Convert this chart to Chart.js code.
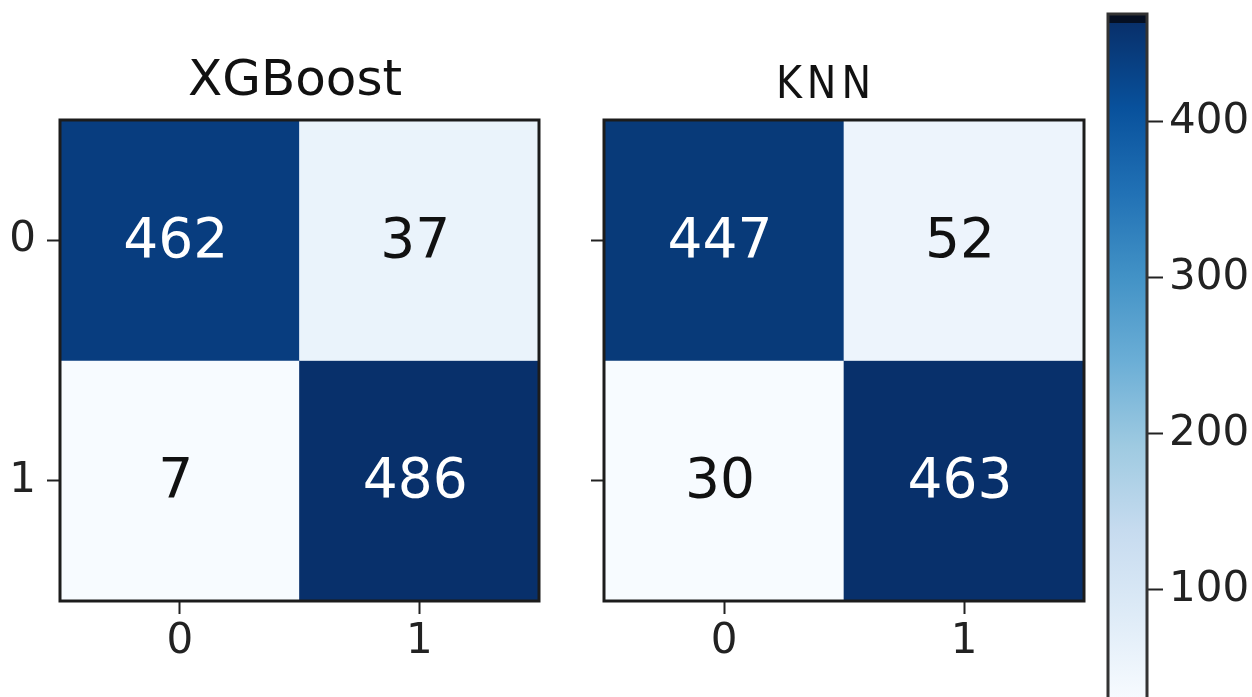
<!DOCTYPE html>
<html>
<head>
<meta charset="utf-8">
<script src="https://cdn.jsdelivr.net/npm/chart.js@4.4.1/dist/chart.umd.min.js"></script>
<style>
  html, body { margin: 0; padding: 0; background: #ffffff; overflow: hidden; }
  body { width: 1252px; height: 697px; position: relative; }
  canvas { position: absolute; left: 0; top: 0; }
</style>
</head>
<body>
<canvas id="cmXgb" width="1252" height="697"></canvas>
<canvas id="cmKnn" width="1252" height="697"></canvas>
<canvas id="cbar" width="1252" height="720"></canvas>
<script>
// ---------------- data ----------------
const classLabels = ['0', '1'];
const xgbRow0 = [462, 37];
const xgbRow1 = [7, 486];
const knnRow0 = [447, 52];
const knnRow1 = [30, 463];
const modelTitles = ['XGBoost', 'KNN'];
const colorbarTicks = [100, 200, 300, 400];

// matplotlib "Blues" colormap
const bluesStops = [
  [0.000, '#f7fbff'], [0.125, '#deebf7'], [0.250, '#c6dbef'],
  [0.375, '#9ecae1'], [0.500, '#6baed6'], [0.625, '#4292c6'],
  [0.750, '#2171b5'], [0.875, '#08519c'], [1.000, '#08306b']
];
function hex2rgb(h) { return [parseInt(h.slice(1,3),16), parseInt(h.slice(3,5),16), parseInt(h.slice(5,7),16)]; }
function blues(t) {
  t = Math.max(0, Math.min(1, t));
  for (let i = 1; i < bluesStops.length; i++) {
    if (t <= bluesStops[i][0]) {
      const [t0, c0] = bluesStops[i-1], [t1, c1] = bluesStops[i];
      const f = (t - t0) / (t1 - t0);
      const a = hex2rgb(c0), b = hex2rgb(c1);
      return 'rgb(' + a.map((v, k) => Math.round(v + (b[k]-v)*f)).join(',') + ')';
    }
  }
  return bluesStops[bluesStops.length-1][1];
}

Chart.defaults.font.family = "'DejaVu Sans', sans-serif";
Chart.defaults.color = '#222222';

const FONT = "'DejaVu Sans', sans-serif";

function zeroPad(s) { s.paddingTop = 0; s.paddingBottom = 0; s.paddingLeft = 0; s.paddingRight = 0; }

function makeMatrix(canvasId, rows, title, opts) {
  const all = rows.flat();
  const vmin = Math.min(...all), vmax = Math.max(...all);
  const norm = v => (v - vmin) / (vmax - vmin);
  const datasets = rows.map((row, r) => ({
    label: 'row ' + classLabels[r],
    data: row.map(() => [r - 0.5, r + 0.5]),
    values: row,
    backgroundColor: row.map(v => blues(norm(v))),
    textColors: row.map(v => (v > (vmin + vmax) / 2 ? '#ffffff' : '#111111')),
    borderWidth: 0,
    grouped: false,
    barPercentage: 1.0,
    categoryPercentage: 1.0
  }));

  const cellText = {
    id: 'cellText',
    afterDatasetsDraw(chart) {
      const ctx = chart.ctx;
      ctx.save();
      ctx.font = '55px ' + FONT;
      ctx.textAlign = 'center';
      ctx.textBaseline = 'middle';
      chart.data.datasets.forEach((ds, di) => {
        const meta = chart.getDatasetMeta(di);
        meta.data.forEach((el, i) => {
          ctx.fillStyle = ds.textColors[i];
          ctx.fillText(String(ds.values[i]), el.x - 4, (el.y + el.base) / 2 + 2);
        });
      });
      ctx.restore();
    }
  };
  const frame = {
    id: 'frame',
    afterDraw(chart) {
      const a = chart.chartArea, ctx = chart.ctx;
      ctx.save();
      ctx.strokeStyle = '#1c1c1c';
      ctx.lineWidth = 3;
      ctx.strokeRect(a.left, a.top, a.right - a.left, a.bottom - a.top);
      ctx.font = opts.titleFont;
      ctx.letterSpacing = opts.titleSpacing;
      ctx.fillStyle = '#111111';
      ctx.textAlign = 'center';
      ctx.textBaseline = 'alphabetic';
      ctx.fillText(title, opts.titleX, opts.titleY);
      ctx.restore();
    }
  };

  return new Chart(document.getElementById(canvasId), {
    type: 'bar',
    data: { labels: classLabels, datasets },
    options: {
      responsive: false,
      animation: false,
      devicePixelRatio: 1,
      layout: { padding: { left: 0, top: 120, right: opts.padRight, bottom: 0 } },
      plugins: { legend: { display: false }, tooltip: { enabled: false }, title: { display: false } },
      scales: {
        x: {
          type: 'category',
          offset: true,
          grid: { display: true, offset: false, drawOnChartArea: false, drawTicks: true, tickLength: 13, tickColor: '#222', tickWidth: 2 },
          border: { display: false },
          ticks: { font: { size: 42 }, color: '#222', padding: 3, maxRotation: 0 },
          afterFit(s) { s.height = 96; zeroPad(s); }
        },
        y: {
          type: 'linear',
          reverse: true,
          min: -0.5,
          max: 1.5,
          grid: { display: true, drawOnChartArea: false, drawTicks: true, tickLength: 13, tickColor: '#222', tickWidth: 2 },
          border: { display: false },
          afterBuildTicks(s) { s.ticks = classLabels.map((_, i) => ({ value: i })); },
          ticks: {
            font: { size: 42 }, color: '#222', padding: 11,
            callback: (v) => opts.showYLabels ? classLabels[Math.round(v)] : ''
          },
          afterFit(s) { s.width = opts.areaLeft; zeroPad(s); }
        }
      }
    },
    plugins: [cellText, frame]
  });
}

makeMatrix('cmXgb', [xgbRow0, xgbRow1], modelTitles[0], {
  areaLeft: 60, padRight: 1252 - 539, showYLabels: true,
  titleX: 295, titleY: 95, titleFont: '50px ' + FONT, titleSpacing: '0px'
});
makeMatrix('cmKnn', [knnRow0, knnRow1], modelTitles[1], {
  areaLeft: 604, padRight: 1252 - 1084, showYLabels: false,
  titleX: 826, titleY: 98, titleFont: "44px 'DejaVu Sans Condensed', sans-serif", titleSpacing: '5px'
});

// ---------------- colorbar (for the last matrix) ----------------
const cbValues = knnRow0.concat(knnRow1);
const cbMin = Math.min(...cbValues), cbMax = Math.max(...cbValues);

const cbFrame = {
  id: 'cbFrame',
  beforeDatasetsDraw(chart) {
    const a = chart.chartArea, ctx = chart.ctx;
    ctx.save();
    ctx.fillStyle = '#050f22';
    ctx.fillRect(a.left, a.top, a.right - a.left, a.bottom - a.top);
    ctx.restore();
  },
  afterDatasetsDraw(chart) {
    const a = chart.chartArea, ctx = chart.ctx;
    ctx.save();
    ctx.strokeStyle = '#333333';
    ctx.lineWidth = 3;
    ctx.strokeRect(a.left, a.top, a.right - a.left, a.bottom - a.top);
    ctx.restore();
  }
};

new Chart(document.getElementById('cbar'), {
  type: 'bar',
  data: {
    labels: [''],
    datasets: [{
      data: [[cbMin, cbMax]],
      borderWidth: 0,
      barPercentage: 1.0,
      categoryPercentage: 1.0,
      backgroundColor(ctx) {
        const chart = ctx.chart;
        if (!chart.chartArea) return bluesStops[4][1];
        const y = chart.scales.y;
        const g = chart.ctx.createLinearGradient(0, y.getPixelForValue(cbMin), 0, y.getPixelForValue(cbMax));
        bluesStops.forEach(([t, c]) => g.addColorStop(t, c));
        return g;
      }
    }]
  },
  options: {
    responsive: false,
    animation: false,
    devicePixelRatio: 1,
    layout: { padding: { left: 1108, top: 14, right: 0, bottom: 21 } },
    plugins: { legend: { display: false }, tooltip: { enabled: false } },
    scales: {
      x: { display: false },
      y: {
        position: 'right',
        type: 'linear',
        min: 30,
        max: 469,
        grid: { display: true, drawOnChartArea: false, drawTicks: true, tickLength: 16, tickColor: '#222', tickWidth: 2 },
        border: { display: false },
        afterBuildTicks(s) { s.ticks = colorbarTicks.map(v => ({ value: v })); },
        ticks: { font: { size: 42 }, color: '#222', padding: 6 },
        afterFit(s) { s.width = 1252 - 1147; zeroPad(s); }
      }
    }
  },
  plugins: [cbFrame]
});
</script>
</body>
</html>
